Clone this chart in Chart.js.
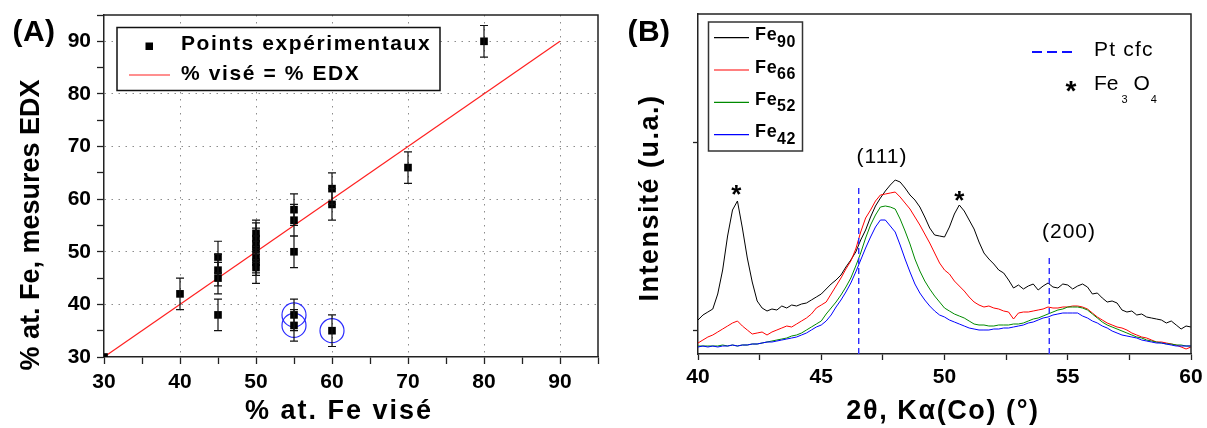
<!DOCTYPE html>
<html>
<head>
<meta charset="utf-8">
<script src="https://cdn.jsdelivr.net/npm/chart.js@4.4.0/dist/chart.umd.min.js"></script>
<style>
  html, body { margin: 0; padding: 0; background: #fff; }
  body { width: 1207px; height: 428px; position: relative; overflow: hidden; }
  .panel { position: absolute; top: 0; }
  #panelA { left: 0; width: 600px; height: 428px; }
  #panelB { left: 600px; width: 607px; height: 428px; }
</style>
</head>
<body>
<div class="panel" id="panelA"><canvas id="edxChart" width="600" height="428"></canvas></div>
<div class="panel" id="panelB"><canvas id="xrdChart" width="607" height="428"></canvas></div>
<script>
// ----------- data (A) : % Fe visé vs % Fe EDX -----------
const feVise = [30, 40, 45, 45, 45, 45, 50, 50, 50, 50, 50, 50, 50, 55, 55, 55, 55, 55, 60, 60, 60, 70, 80];
const feEdx  = [30, 42, 49, 46.5, 45, 38, 53.5, 52.5, 51.5, 50.5, 49, 48, 47, 58, 56, 50, 38, 36, 62, 59, 35, 66, 90];
const edxErr = [0, 3, 3, 3, 3, 3, 2.5, 3, 3, 2.5, 3, 2.5, 3, 3, 3, 3, 3, 3, 3, 3, 3, 3, 3];
const circledVise = [55, 55, 60];
const circledEdx  = [38, 36, 35];
const idealVise = [30, 90];
const idealEdx  = [30, 90];
const ticksA = [40, 50, 60, 70, 80, 90];
const labelsA = [30, 40, 50, 60, 70, 80, 90];

// ----------- data (B) : XRD scans -----------
const twoTheta = [40,40.2,40.4,40.6,40.8,41,41.2,41.4,41.6,41.8,42,42.2,42.4,42.6,42.8,43,43.2,43.4,43.6,43.8,
  44,44.2,44.4,44.6,44.8,45,45.2,45.4,45.6,45.8,46,46.2,46.4,46.6,46.8,47,47.2,47.4,47.6,47.8,
  48,48.2,48.4,48.6,48.8,49,49.2,49.4,49.6,49.8,50,50.2,50.4,50.6,50.8,51,51.2,51.4,51.6,51.8,
  52,52.2,52.4,52.6,52.8,53,53.2,53.4,53.6,53.8,54,54.2,54.4,54.6,54.8,55,55.2,55.4,55.6,55.8,
  56,56.2,56.4,56.6,56.8,57,57.2,57.4,57.6,57.8,58,58.2,58.4,58.6,58.8,59,59.2,59.4,59.6,59.8,60];
const fe90 = [36,41,44,47,62,86,120,146,155,128,98,74,55,48,45,47,46,50,48,51,
  50,52,53,56,59,62,67,72,76,81,89,96,104,116,126,139,150,158,165,171,
  176,174,168,161,156,149,139,128,121,120,119,129,142,151,145,136,127,114,103,97,
  92,86,83,76,68,71,67,70,72,66,70,73,69,68,72,71,67,70,72,69,
  62,63,58,54,55,53,46,44,45,41,42,39,38,37,36,33,35,31,27,30,29];
const fe66 = [13,16,19,21,24,27,30,33,35,30,26,22,23,24,21,24,26,28,30,29,
  32,35,38,42,48,51,54,62,70,78,87,95,107,124,138,146,155,161,162,163,
  164,159,153,147,139,131,122,113,103,93,86,82,75,70,65,59,54,51,49,50,
  48,47,45,44,37,43,44,44,45,46,47,49,48,48,49,49,50,50,49,47,
  43,39,36,33,31,29,28,26,23,21,19,18,16,14,14,13,12,11,9,7,9];
const fe52 = [10,10,10,10,10,11,10,11,10,11,11,12,12,13,14,15,16,17,18,20,
  21,23,26,29,32,35,42,48,54,61,69,78,90,103,118,131,141,149,150,149,
  147,137,125,112,97,85,75,67,60,54,48,45,42,40,38,35,32,31,31,30,
  30,31,31,31,32,32,33,35,37,38,40,42,44,46,47,49,49,49,48,46,
  42,38,34,31,29,27,25,23,21,19,18,16,15,14,13,12,12,11,11,10,10];
const fe42 = [9,10,9,10,9,10,10,11,10,11,11,12,12,13,14,14,15,16,17,18,
  19,21,23,26,29,31,35,41,49,56,64,73,84,96,108,119,129,136,136,130,
  124,111,97,84,72,63,56,50,45,41,39,36,34,32,30,28,27,26,26,26,
  27,27,28,28,29,30,31,33,34,36,38,39,41,42,43,43,43,43,40,38,
  35,33,30,28,25,23,21,20,19,18,16,15,14,13,13,12,11,10,10,10,10];
const seriesSubs = ['90', '66', '52', '42'];
const ptCfcAngles = [46.52, 54.25];
const ptCfcTops = [168, 102];
const fe3o4Angles = [41.55, 50.6];
const fe3o4Peaks = [157, 151];
const intensityTicks = [25.3, 213.3];

const FONT = '"Liberation Sans", Arial, sans-serif';
Chart.defaults.font.family = FONT;
Chart.defaults.color = '#000';

function drawLabel(ctx, text, x, y, font, align, spacing, angle) {
  ctx.save();
  ctx.translate(x, y);
  if (angle) ctx.rotate(angle);
  ctx.font = font;
  ctx.letterSpacing = (spacing || 0) + 'px';
  ctx.textAlign = align || 'center';
  ctx.textBaseline = 'middle';
  ctx.fillStyle = '#000';
  ctx.fillText(text, 0, 0);
  ctx.restore();
}

function drawStar(ctx, x, cy, size) {
  // asterisk sits high in the em box, push baseline down so its ink is centred on cy
  drawLabel(ctx, '*', x, cy + size * 0.23, 'bold ' + size + 'px ' + FONT, 'center', 0);
}

// axes keep the exact size we give them, no extra room for overhanging labels
function fixSize(prop, value) {
  return (s) => {
    s[prop] = value;
    s.paddingTop = 0; s.paddingBottom = 0; s.paddingLeft = 0; s.paddingRight = 0;
  };
}

const framePlugin = {
  id: 'frame',
  afterDraw(chart) {
    const { ctx, chartArea: { left, right, top, bottom } } = chart;
    ctx.save();
    ctx.strokeStyle = '#222';
    ctx.lineWidth = 1.5;
    ctx.beginPath();
    ctx.moveTo(left, top);
    ctx.lineTo(right, top);
    ctx.lineTo(right, bottom);
    ctx.stroke();
    ctx.restore();
  }
};

// ----------- chart (A) -----------
const errorBarPlugin = {
  id: 'errorBars',
  afterDatasetsDraw(chart) {
    const { ctx, scales: { x, y } } = chart;
    ctx.save();
    ctx.strokeStyle = '#111';
    ctx.lineWidth = 1.2;
    feVise.forEach((v, i) => {
      const e = edxErr[i];
      if (!e) return;
      const px = x.getPixelForValue(v);
      const top = y.getPixelForValue(feEdx[i] + e);
      const bot = y.getPixelForValue(feEdx[i] - e);
      ctx.beginPath();
      ctx.moveTo(px, top); ctx.lineTo(px, bot);
      ctx.moveTo(px - 4, top); ctx.lineTo(px + 4, top);
      ctx.moveTo(px - 4, bot); ctx.lineTo(px + 4, bot);
      ctx.stroke();
    });
    ctx.restore();
  }
};

const textPluginA = {
  id: 'textA',
  afterDraw(chart) {
    const ctx = chart.ctx;
    drawLabel(ctx, '(A)', 34, 33, 'bold 30px ' + FONT, 'center', 0.5);
    drawLabel(ctx, '% at. Fe, mesures EDX', 32, 225, 'bold 27px ' + FONT, 'center', 0, -Math.PI / 2);
    drawLabel(ctx, '% at. Fe visé', 339, 412, 'bold 27px ' + FONT, 'center', 2);

    // legend
    ctx.save();
    ctx.fillStyle = '#fff';
    ctx.fillRect(117, 27.5, 323, 63);
    ctx.strokeStyle = '#111';
    ctx.lineWidth = 1.5;
    ctx.strokeRect(117, 27.5, 323, 63);
    ctx.fillStyle = '#000';
    ctx.fillRect(145.5, 42.5, 7.5, 7.5);
    ctx.strokeStyle = '#ff2020';
    ctx.lineWidth = 1.2;
    ctx.beginPath(); ctx.moveTo(129, 75); ctx.lineTo(170, 75); ctx.stroke();
    ctx.restore();
    drawLabel(ctx, 'Points expérimentaux', 181, 44, 'bold 21px ' + FONT, 'left', 1.6);
    drawLabel(ctx, '% visé = % EDX', 181, 74, 'bold 21px ' + FONT, 'left', 1.6);
  }
};

const axisA = (fit) => ({
  type: 'linear',
  min: 30,
  max: 95,
  afterFit: fit,
  ticks: {
    stepSize: 5,
    includeBounds: false,
    autoSkip: false,
    maxRotation: 0,
    color: '#000',
    padding: 6,
    font: { size: 21, weight: 'bold' },
    callback: (v) => (labelsA.includes(v) ? v : '')
  },
  grid: {
    color: (c) => (c.tick && ticksA.includes(c.tick.value) ? '#8c8c8c' : 'rgba(0,0,0,0)'),
    lineWidth: 1,
    tickColor: '#222',
    tickLength: 7,
    tickWidth: 1.3
  },
  border: { color: '#222', width: 1.5, dash: [1.5, 5.5] }
});

const edxCtx = document.getElementById('edxChart').getContext('2d');
new Chart(edxCtx, {
  type: 'scatter',
  data: {
    datasets: [
      {
        label: 'Points expérimentaux',
        data: feVise.map((v, i) => ({ x: v, y: feEdx[i] })),
        pointStyle: 'rect',
        pointRadius: 5.4,
        backgroundColor: '#000',
        borderWidth: 0,
        clip: 0
      },
      {
        label: 'entourés',
        data: circledVise.map((v, i) => ({ x: v, y: circledEdx[i] })),
        pointStyle: 'circle',
        pointRadius: 12,
        backgroundColor: 'rgba(0,0,0,0)',
        borderColor: '#2b2bff',
        borderWidth: 1.2
      },
      {
        label: '% visé = % EDX',
        type: 'line',
        data: idealVise.map((v, i) => ({ x: v, y: idealEdx[i] })),
        borderColor: '#ff2020',
        borderWidth: 1.2,
        pointRadius: 0,
        fill: false
      }
    ]
  },
  options: {
    responsive: false,
    animation: false,
    layout: { autoPadding: false, padding: { top: 15, right: 2, left: 0, bottom: 0 } },
    plugins: { legend: { display: false }, tooltip: { enabled: false } },
    scales: {
      x: axisA(fixSize('height', 71)),
      y: axisA(fixSize('width', 104))
    }
  },
  plugins: [errorBarPlugin, framePlugin, textPluginA]
});

// ----------- chart (B) -----------
const seriesColors = ['#000000', '#ff0000', '#008a00', '#0000ff'];
const seriesData = [fe90, fe66, fe52, fe42];

const textPluginB = {
  id: 'textB',
  afterDraw(chart) {
    const { ctx, scales: { x, y } } = chart;
    drawLabel(ctx, '(B)', 49, 33, 'bold 30px ' + FONT, 'center', 0.5);
    drawLabel(ctx, 'Intensité (u.a.)', 51, 198, 'bold 27px ' + FONT, 'center', 1.5, -Math.PI / 2);
    drawLabel(ctx, '2θ, Kα(Co) (°)', 343, 412, 'bold 27px ' + FONT, 'center', 1.6);
    drawLabel(ctx, '(111)', 282, 157, '21px ' + FONT, 'center', 1);
    drawLabel(ctx, '(200)', 469, 232, '21px ' + FONT, 'center', 1);

    fe3o4Angles.forEach((a, i) => {
      drawStar(ctx, x.getPixelForValue(a), y.getPixelForValue(fe3o4Peaks[i]) - 9, 26);
    });

    // series legend
    ctx.save();
    ctx.fillStyle = '#fff';
    ctx.fillRect(108.5, 22, 94, 129);
    ctx.strokeStyle = '#333';
    ctx.lineWidth = 1.5;
    ctx.strokeRect(108.5, 22, 94, 129);
    seriesSubs.forEach((s, i) => {
      const ly = 37.7 + 32.3 * i;
      ctx.strokeStyle = seriesColors[i];
      ctx.lineWidth = 1.2;
      ctx.beginPath(); ctx.moveTo(114, ly); ctx.lineTo(149, ly); ctx.stroke();
    });
    ctx.restore();
    seriesSubs.forEach((s, i) => {
      drawLabel(ctx, 'Fe', 155, 35.5 + 32.3 * i, 'bold 18px ' + FONT, 'left', 0.8);
      drawLabel(ctx, s, 177, 42.2 + 32.3 * i, 'bold 16px ' + FONT, 'left', 0.6);
    });

    // reference legend
    ctx.save();
    ctx.strokeStyle = '#1010ff';
    ctx.lineWidth = 1.8;
    ctx.setLineDash([10, 5]);
    ctx.beginPath(); ctx.moveTo(432, 52); ctx.lineTo(472, 52); ctx.stroke();
    ctx.restore();
    drawLabel(ctx, 'Pt cfc', 494, 50, '21px ' + FONT, 'left', 1.2);
    drawStar(ctx, 471, 86, 28);
    ctx.save();
    ctx.font = '21px ' + FONT;
    let px = 494;
    drawLabel(ctx, 'Fe', px, 84, '21px ' + FONT, 'left', 0);
    px += ctx.measureText('Fe').width + 3;
    drawLabel(ctx, '3', px, 99.5, '11px ' + FONT, 'left', 0);
    px += 12;
    drawLabel(ctx, 'O', px, 84, '21px ' + FONT, 'left', 0);
    px += ctx.measureText('O').width + 1;
    drawLabel(ctx, '4', px, 99.5, '11px ' + FONT, 'left', 0);
    ctx.restore();
  }
};

const xrdDatasets = [];
ptCfcAngles.forEach((a, i) => {
  xrdDatasets.push({
    label: 'Pt cfc',
    data: [{ x: a, y: 2 }, { x: a, y: ptCfcTops[i] }],
    showLine: true,
    borderColor: '#2a2aff',
    borderWidth: 1.4,
    borderDash: [6, 4],
    pointRadius: 0
  });
});
// blue drawn on top, black underneath
[3, 2, 1, 0].forEach((k) => {
  xrdDatasets.push({
    label: 'Fe' + seriesSubs[k],
    data: twoTheta.map((t, i) => ({ x: t, y: seriesData[k][i] })),
    showLine: true,
    borderColor: seriesColors[k],
    borderWidth: 1,
    pointRadius: 0,
    tension: 0
  });
});

const xrdCtx = document.getElementById('xrdChart').getContext('2d');
new Chart(xrdCtx, {
  type: 'scatter',
  data: { datasets: xrdDatasets },
  options: {
    responsive: false,
    animation: false,
    layout: { autoPadding: false, padding: { top: 14, right: 16, left: 0, bottom: 0 } },
    plugins: { legend: { display: false }, tooltip: { enabled: false } },
    scales: {
      x: {
        type: 'linear',
        min: 40,
        max: 60,
        afterFit: fixSize('height', 74),
        ticks: {
          stepSize: 2.5,
          includeBounds: false,
          autoSkip: false,
          maxRotation: 0,
          color: '#000',
          padding: 5,
          font: { size: 21, weight: 'bold' },
          callback: (v) => (v % 5 === 0 ? v : '')
        },
        grid: { drawOnChartArea: false, tickColor: '#222', tickLength: 6, tickWidth: 1.3 },
        border: { color: '#222', width: 1.5 }
      },
      y: {
        type: 'linear',
        min: 2,
        max: 342,
        afterFit: fixSize('width', 98),
        afterBuildTicks: (s) => { s.ticks = intensityTicks.map((v) => ({ value: v })); },
        ticks: { display: false },
        grid: { drawOnChartArea: false, tickColor: '#222', tickLength: 5, tickWidth: 1.3 },
        border: { color: '#222', width: 1.5 }
      }
    }
  },
  plugins: [framePlugin, textPluginB]
});
</script>
</body>
</html>
